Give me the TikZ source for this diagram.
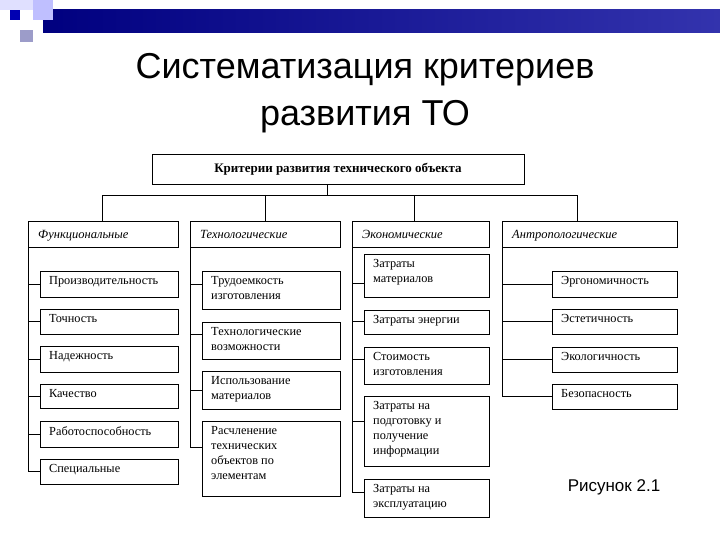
\documentclass[tikz,border=0pt]{standalone}
\usepackage{fontspec}
\setmainfont{Liberation Serif}
\newfontfamily\titlefont{Liberation Sans}
\begin{document}
\begin{tikzpicture}[x=1pt,y=-1pt,
  bx/.style={draw,line width=0.8pt,inner sep=0pt},
  ln/.style={line width=0.8pt},
  txt/.style={anchor=north west,align=left,font=\fontsize{12.3}{15}\selectfont,inner sep=0pt},
  cat/.style={anchor=base west,font=\fontsize{12.5}{14}\selectfont\itshape,inner sep=0pt}]
\useasboundingbox (0,0) rectangle (720,540);
% decoration
\fill[left color=blue!50!black, right color=blue!60!black!80] (43,10) rectangle (720,33);
\fill[blue!12] (0,0) rectangle (43,10);
\fill[blue!25] (33,0) rectangle (53,20);
\fill[blue!70!black] (10,10) rectangle (20,20);
\fill[blue!30!gray!60] (20,30) rectangle (33,42);
% title
\node[font=\titlefont\fontsize{36}{47}\selectfont,align=center] (title) at (365,93) {Систематизация критериев\\развития ТО};
\node[font=\titlefont\fontsize{17}{20}\selectfont] (fig) at (614,487) {Рисунок 2.1};
% top
\node[bx,minimum width=372,minimum height=30,font=\fontsize{13}{15}\selectfont\bfseries] (top) at (338,169) {Критерии развития технического объекта};
% categories
\foreach \n/\a/\b/\t in {f/28/178/Функциональные,t/190/340/Технологические,e/352/489/Экономические,a/502/677/Антропологические}{
  \draw[ln] (\a,221) rectangle (\b,247);
  \node[cat] (\n) at (\a+10,238) {\t};
}
\coordinate (bus) at (327,195);
\draw[ln] (top.south -| bus) -- (bus);
\draw[ln] (102,221) -- (102,195) -- (577,195) -- (577,221);
\draw[ln] (265,195) -- (265,221);
\draw[ln] (414,195) -- (414,221);
% children helper
\newcommand\cbox[6]{% name, x1,y1,x2,y2,text
  \draw[ln] (#2,#3) rectangle (#4,#5);
  \node[txt] (#1) at (#2+9,#3+5) {#6};}
% functional
\cbox{f1}{40}{271}{178}{297}{Производительность}
\cbox{f2}{40}{309}{178}{334}{Точность}
\cbox{f3}{40}{346}{178}{372}{Надежность}
\cbox{f4}{40}{384}{178}{408}{Качество}
\cbox{f5}{40}{421}{178}{447}{Работоспособность}
\cbox{f6}{40}{459}{178}{484}{Специальные}
\draw[ln] (28,247) -- (28,471) -- (40,471);
\foreach \y in {284,321,359,396,434} \draw[ln] (28,\y) -- (40,\y);
% technological
\cbox{t1}{202}{271}{340}{309}{Трудоемкость\\изготовления}
\cbox{t2}{202}{322}{340}{359}{Технологические\\возможности}
\cbox{t3}{202}{371}{340}{409}{Использование\\материалов}
\cbox{t4}{202}{421}{340}{496}{Расчленение\\технических\\объектов по\\элементам}
\draw[ln] (190,247) -- (190,447) -- (202,447);
\foreach \y in {284,334,390} \draw[ln] (190,\y) -- (202,\y);
% economic
\cbox{e1}{364}{254}{489}{297}{Затраты\\материалов}
\cbox{e2}{364}{310}{489}{334}{Затраты энергии}
\cbox{e3}{364}{347}{489}{384}{Стоимость\\изготовления}
\cbox{e4}{364}{396}{489}{466}{Затраты на\\подготовку и\\получение\\информации}
\cbox{e5}{364}{479}{489}{517}{Затраты на\\эксплуатацию}
\draw[ln] (352,247) -- (352,492) -- (364,492);
\foreach \y in {283,321,359,421} \draw[ln] (352,\y) -- (364,\y);
% anthropological
\cbox{a1}{552}{271}{677}{297}{Эргономичность}
\cbox{a2}{552}{309}{677}{334}{Эстетичность}
\cbox{a3}{552}{347}{677}{372}{Экологичность}
\cbox{a4}{552}{384}{677}{409}{Безопасность}
\draw[ln] (502,247) -- (502,396) -- (552,396);
\foreach \y in {284,321,359} \draw[ln] (502,\y) -- (552,\y);
\end{tikzpicture}
\end{document}
